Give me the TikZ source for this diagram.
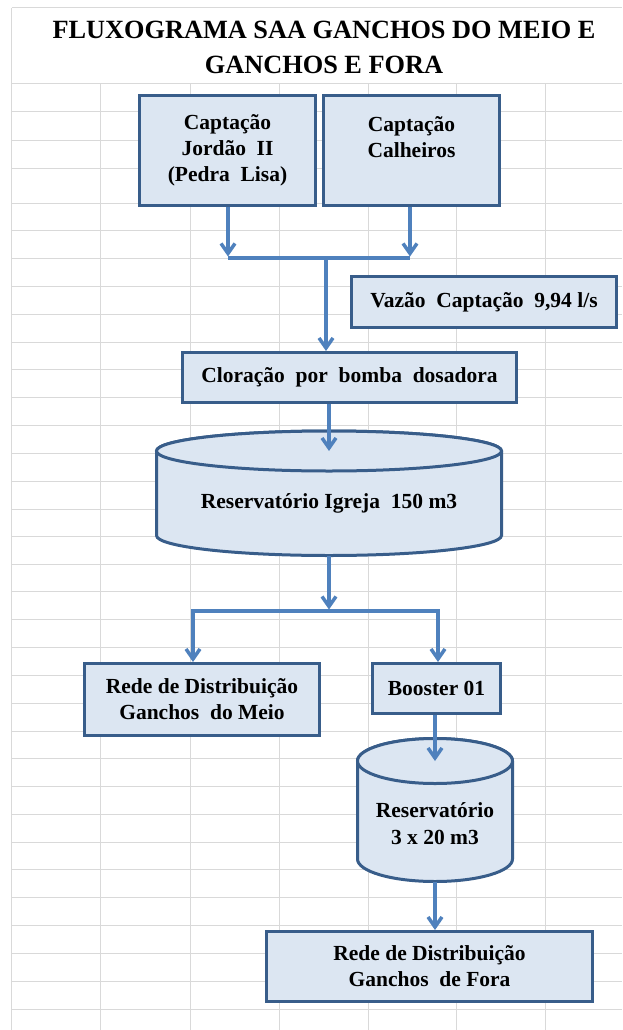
\documentclass[tikz,border=0pt]{standalone}
\usepackage{fontspec}
\setmainfont{Liberation Serif}
\usetikzlibrary{positioning,arrows.meta}

\definecolor{boxfill}{HTML}{DCE6F2}
\definecolor{boxline}{HTML}{385D8A}
\definecolor{flowblue}{HTML}{4F81BD}
\definecolor{cellgray}{HTML}{D9D9D9}

\tikzset{
  box/.style={draw=boxline, fill=boxfill, line width=3pt, inner sep=0pt, align=center,
    font=\fontsize{21.5}{26}\selectfont\bfseries},
  tank/.style={draw=boxline, fill=boxfill, line width=3pt},
  tanktext/.style={inner sep=0pt, align=center, font=\fontsize{21.5}{27}\selectfont\bfseries},
  flow/.style={draw=flowblue, line width=3.5pt},
  arr/.style={flow, -{Straight Barb[length=10pt, width=14pt]}},
  cellline/.style={draw=cellgray, line width=1pt}
}

\begin{document}
\begin{tikzpicture}[x=1pt, y=1pt]
  \useasboundingbox (0,0) rectangle (622,-1030);
  % planilha ao fundo
  \draw[cellline] (11.7,-8) -- (622,-8);
  \draw[cellline] (11.7,-8) -- (11.7,-1030);
  \foreach \y in {84,112,140,168,203,230,258,286,314,342,369,397,425,453,481,509,536,
                  564,591,619,647,675,703,731,758,786,814,842,869,897,925,953,981,1009}
    \draw[cellline] (11.7,-\y) -- (622,-\y);
  \foreach \x in {100,190,279,368,456,545}
    \draw[cellline] (\x,-84) -- (\x,-1030);

  \node[align=center, inner sep=0pt, font=\fontsize{26.3}{35}\selectfont\bfseries] (title) at (324,-47.5)
    {FLUXOGRAMA SAA GANCHOS DO MEIO E\\GANCHOS E FORA};

  % captacoes
  \node[box, minimum width=176, minimum height=110] (jordao) at (227.5,-150.5)
    {Captação\\Jordão~ II\\(Pedra~ Lisa)};
  \node[box, minimum width=176, minimum height=110, right=5pt of jordao] (calheiros)
    {Captação\\Calheiros\\\mbox{}};
  \coordinate (jl) at (228,-258);
  \coordinate (jr) at (410,-258);
  \coordinate (jm) at (326,-258);
  \draw[arr] (jordao.south -| jl) -- ([yshift=1.5pt]jl);
  \draw[arr] (calheiros.south -| jr) -- ([yshift=1.5pt]jr);
  \draw[flow] (jl) -- (jr);

  \node[box, minimum width=265, minimum height=51] (vazao) at (484,-302) {Vazão~ Captação~ 9,94 l/s};
  \node[box, minimum width=334, minimum height=50] (clor) at (349.5,-377.5) {Cloração~ por~ bomba~ dosadora};
  \draw[arr] (jm) -- (jm |- clor.north);

  % reservatorio igreja
  \coordinate (res1top) at (329,-451);
  \coordinate (res1bot) at (329,-555.5);
  \draw[tank] (156.5,-451) -- (156.5,-535.5) arc[start angle=180, end angle=360, x radius=172.5, y radius=20]
    -- (501.5,-451) arc[start angle=0, end angle=180, x radius=172.5, y radius=20] -- cycle;
  \draw[tank] (res1top) ellipse[x radius=172.5, y radius=20];
  \node[tanktext] (res1) at (329,-503) {Reservatório Igreja~ 150 m3};
  \draw[arr] (res1top |- clor.south) -- (res1top);

  % derivacao
  \coordinate (sl) at (193,-611);
  \coordinate (sr) at (438,-611);
  \draw[arr] (res1bot) -- ([yshift=1.5pt]res1bot |- sl);
  \draw[flow] (sl) -- (sr);
  \node[box, minimum width=235, minimum height=72] (meio) at (202,-699.5)
    {Rede de Distribuição\\Ganchos~ do Meio};
  \node[box, minimum width=128, minimum height=50, right=50pt of meio.north east, anchor=north west] (booster)
    {Booster 01};
  \draw[arr] ([yshift=1.7pt]sl) -- (sl |- meio.north);
  \draw[arr] ([yshift=1.7pt]sr) -- (sr |- booster.north);

  % reservatorio 3 x 20
  \coordinate (res2top) at (435,-761);
  \coordinate (res2bot) at (435,-881.5);
  \draw[tank] (357.5,-761) -- (357.5,-859) arc[start angle=180, end angle=360, x radius=77.5, y radius=22.5]
    -- (512.5,-761) arc[start angle=0, end angle=180, x radius=77.5, y radius=22.5] -- cycle;
  \draw[tank] (res2top) ellipse[x radius=77.5, y radius=22.5];
  \node[tanktext] (res2) at (435,-823.5) {Reservatório\\3 x 20 m3};
  \draw[arr] (res2top |- booster.south) -- (res2top);

  \node[box, minimum width=326, minimum height=70] (fora) at (429.5,-966.5)
    {Rede de Distribuição\\Ganchos~ de Fora};
  \draw[arr] (res2bot) -- (res2bot |- fora.north);
\end{tikzpicture}
\end{document}
